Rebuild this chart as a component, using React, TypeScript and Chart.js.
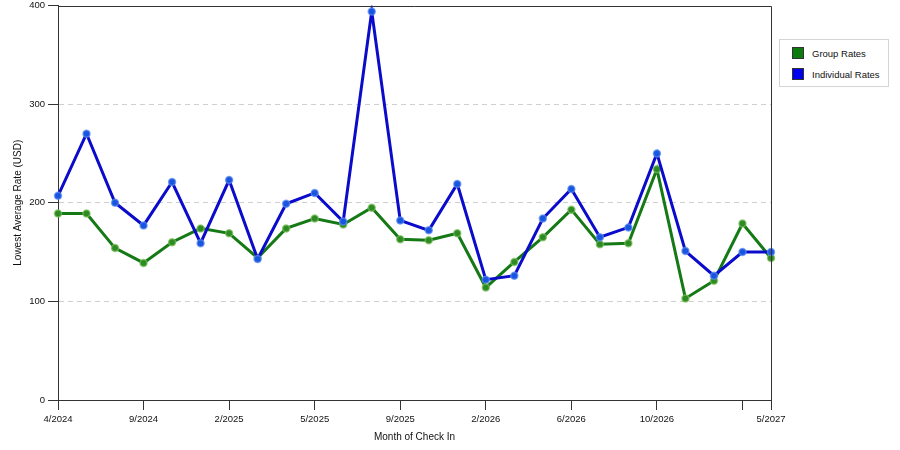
import { useEffect, useRef } from "react"
import { Chart, registerables, type ChartConfiguration } from "chart.js"

Chart.register(...registerables)

// category months (only some are labelled on the axis)
const months = [
  "4/2024", "5/2024", "7/2024", "9/2024", "10/2024", "12/2024",
  "2/2025", "3/2025", "4/2025", "5/2025", "6/2025", "8/2025",
  "9/2025", "10/2025", "12/2025", "2/2026", "3/2026", "4/2026",
  "6/2026", "7/2026", "9/2026", "10/2026", "11/2026", "1/2027",
  "3/2027", "5/2027",
]
const shownLabels = ["4/2024", "9/2024", "2/2025", "5/2025", "9/2025", "2/2026", "6/2026", "10/2026", "5/2027"]
const tickMarks = [0, 3, 6, 9, 12, 15, 18, 21, 24, 25]

const groupRates = [
  189, 189, 154, 139, 160, 174, 169, 144, 174, 184, 178, 195,
  163, 162, 169, 114, 140, 165, 193, 158, 159, 234, 103, 121,
  179, 144,
]
const individualRates = [
  207, 270, 200, 177, 221, 159, 223, 143, 199, 210, 181, 394,
  182, 172, 219, 122, 126, 184, 214, 165, 175, 250, 151, 126,
  150, 150,
]

const yTicks = [0, 100, 200, 300, 400]

const GREEN = '#157a15'
const BLUE = '#0b0bcc'
const FONT = 'Liberation Sans'
const TEXT = '#111'

const frame = {
  id: 'frame',
  afterDatasetsDraw(chart: Chart) {
    const { ctx, chartArea: a } = chart
    ctx.save()
    ctx.strokeStyle = '#333'
    ctx.lineWidth = 1
    ctx.beginPath()
    ctx.moveTo(a.left, Math.round(a.top) + 0.5)
    ctx.lineTo(Math.round(a.right) + 0.5, Math.round(a.top) + 0.5)
    ctx.lineTo(Math.round(a.right) + 0.5, a.bottom)
    ctx.stroke()
    ctx.restore()
  },
}

function RateChart() {
  const canvasRef = useRef<HTMLCanvasElement>(null)
  const chartRef = useRef<Chart | null>(null)

  useEffect(() => {
    if (!canvasRef.current) return
    chartRef.current?.destroy()

    const cfg: ChartConfiguration = {
      type: 'line',
      data: {
        labels: months,
        datasets: [
          {
            label: 'Individual Rates', data: individualRates,
            borderColor: BLUE, backgroundColor: BLUE, borderWidth: 3, tension: 0,
            pointRadius: 3.5, pointBackgroundColor: '#1a55e0', pointBorderColor: 'rgba(90,140,240,0.7)', pointBorderWidth: 1.5,
          },
          {
            label: 'Group Rates', data: groupRates,
            borderColor: GREEN, backgroundColor: GREEN, borderWidth: 3, tension: 0,
            pointRadius: 3.5, pointBackgroundColor: '#2e8a22', pointBorderColor: 'rgba(120,190,90,0.7)', pointBorderWidth: 1.5,
          },
        ],
      },
      options: {
        responsive: true,
        maintainAspectRatio: false,
        animation: false,
        layout: { padding: { left: 0, right: 129, top: 0, bottom: 0 } },
        plugins: {
          legend: { display: false },
          tooltip: { enabled: false },
        },
        scales: {
          x: {
            offset: false,
            afterFit: (s: any) => { s.height = 50 },
            grid: {
              drawOnChartArea: false, drawTicks: true, tickLength: 10,
              tickColor: (c: any) => tickMarks.includes(c.index) ? '#333' : 'transparent',
            },
            border: { color: '#333', width: 1 },
            ticks: {
              autoSkip: false, maxRotation: 0, padding: 4,
              font: { family: FONT, size: 9.5 }, color: TEXT,
              callback: (_v: any, i: number) => shownLabels.includes(months[i]) ? months[i] : '',
            },
            title: {
              display: true, text: 'Month of Check In',
              font: { family: FONT, size: 10 }, color: TEXT,
              padding: { top: 0, bottom: 7 },
            },
          },
          y: {
            min: 0, max: 400,
            afterFit: (s: any) => { s.width = 58; s.paddingTop = 3; s.paddingBottom = 0 },
            afterBuildTicks: (s: any) => { s.ticks = yTicks.map(v => ({ value: v })) },
            grid: {
              color: (c: any) => (c.tick && (c.tick.value === 0 || c.tick.value === 400)) ? 'transparent' : '#cfcfcf',
              tickColor: '#333', tickLength: 10, lineWidth: 1,
            },
            border: { color: '#333', width: 1, dash: [5, 4] },
            ticks: { padding: 3, font: { family: FONT, size: 9.5 }, color: TEXT },
            title: {
              display: true, text: 'Lowest Average Rate (USD)',
              font: { family: FONT, size: 10 }, color: TEXT,
              padding: { top: 12, bottom: 0 },
            },
          },
        },
      },
      plugins: [frame],
    }
    chartRef.current = new Chart(canvasRef.current, cfg)
    return () => { chartRef.current?.destroy() }
  }, [])

  return <canvas ref={canvasRef} />
}

const legendItems = [
  { label: 'Group Rates', color: '#0d7a0d' },
  { label: 'Individual Rates', color: '#0000ee' },
]

export default function App() {
  return (
    <div style={{ position: 'absolute', left: 0, top: 0, width: 900, height: 450, background: '#fff', fontFamily: FONT }}>
      <div style={{ position: 'absolute', left: 0, top: 0, width: 900, height: 450 }}>
        <RateChart />
      </div>
      <div style={{
        position: 'absolute', left: 779, top: 39, width: 108, height: 46,
        border: '1px solid #d4d4d4', background: '#fff',
      }}>
        {legendItems.map((it, i) => (
          <div key={i} style={{ position: 'absolute', left: 12, top: 7 + i * 21, display: 'flex', alignItems: 'center', height: 12 }}>
            <span style={{ display: 'inline-block', width: 10, height: 10, background: it.color, border: '1px solid #333' }} />
            <span style={{ marginLeft: 8, fontSize: 9.5, color: TEXT, whiteSpace: 'nowrap' }}>{it.label}</span>
          </div>
        ))}
      </div>
    </div>
  )
}
